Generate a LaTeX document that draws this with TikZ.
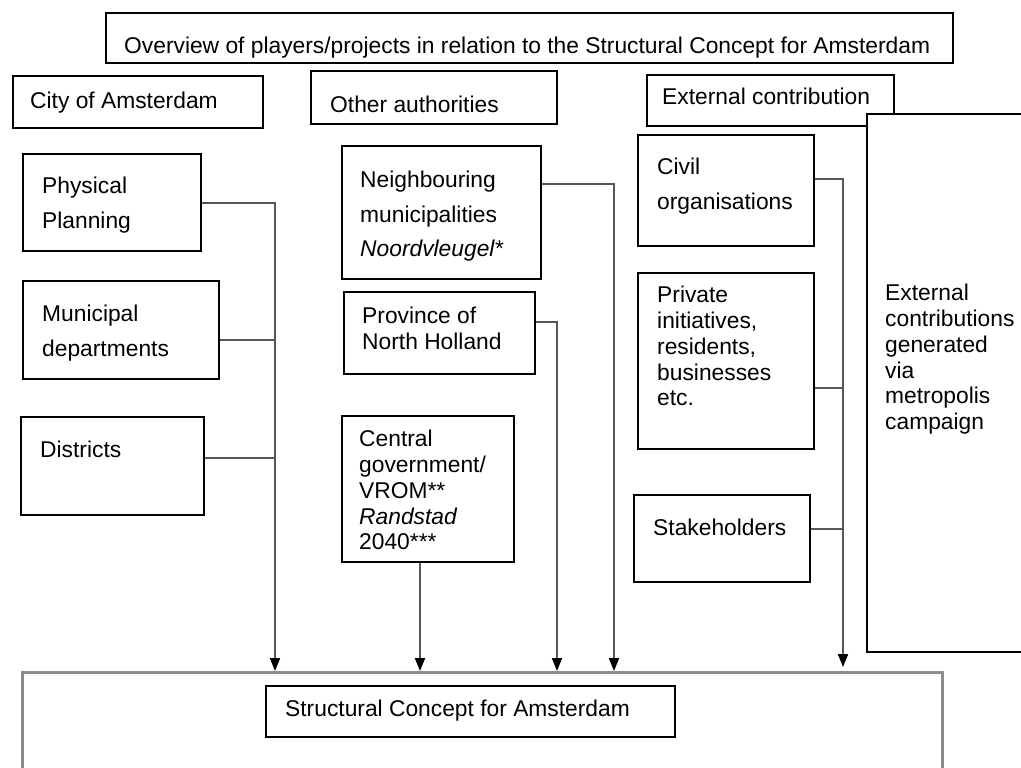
\documentclass[tikz,border=0pt]{standalone}
\usepackage{fontspec}
\setmainfont{Liberation Sans}
\usepackage{tikz}
\usetikzlibrary{arrows.meta}
\newcommand\plain{\fontsize{22.8}{25.8}\selectfont}
\newcommand\airy{\fontsize{22.8}{34.5}\selectfont}
\colorlet{wire}{black!66}
\tikzstyle{box}=[draw,fill=white,line width=2pt,inner sep=0pt,anchor=north west]
\tikzstyle{txt}=[inner sep=0pt,anchor=north west,align=left,font=\plain]
\tikzstyle{txtw}=[txt,font=\airy]
\tikzstyle{link}=[draw=wire,line width=2pt]
\tikzstyle{flow}=[link,-{Triangle[length=13pt,width=10pt,color=black]}]

\begin{document}
\begin{tikzpicture}[x=1pt,y=-1pt]
	\clip (0,0) rectangle (1021,768);
	% header row
	\node[box,minimum width=847pt,minimum height=50pt] (head) at (105,12) {};
	\node[txt] (head-t) at (124,37) {Overview of players/projects in relation to the Structural Concept for Amsterdam};
	\node[box,minimum width=250pt,minimum height=52pt] (city) at (12,75) {};
	\node[txt] (city-t) at (30,92) {City of Amsterdam};
	\node[box,minimum width=246pt,minimum height=53pt] (auth) at (310,70) {};
	\node[txt] (auth-t) at (330,96) {Other authorities};
	\node[box,minimum width=247pt,minimum height=51pt] (extn) at (646,74) {};
	\node[txt] (extn-t) at (662,88) {External contribution};
	\node[box,minimum width=170pt,minimum height=538pt] (camp) at (866,113) {};
	\node[txt] (camp-t) at (885,284) {External\\contributions\\generated\\via\\metropolis\\campaign};
	% city of amsterdam
	\node[box,minimum width=178pt,minimum height=97pt] (phys) at (22,153) {};
	\node[txtw] (phys-t) at (42,177) {Physical\\Planning};
	\node[box,minimum width=196pt,minimum height=98pt] (mun) at (22,280) {};
	\node[txtw] (mun-t) at (42,305) {Municipal\\departments};
	\node[box,minimum width=183pt,minimum height=98pt] (dist) at (20,416) {};
	\node[txt] (dist-t) at (40,441) {Districts};
	% other authorities
	\node[box,minimum width=199pt,minimum height=133pt] (neigh) at (341,145) {};
	\node[txtw] (neigh-t) at (360,171) {Neighbouring\\municipalities\\\textit{Noordvleugel}*};
	\node[box,minimum width=191pt,minimum height=82pt] (prov) at (343,291) {};
	\node[txt] (prov-t) at (362,307) {Province of\\North Holland};
	\node[box,minimum width=172pt,minimum height=146pt] (cent) at (341,415) {};
	\node[txt] (cent-t) at (359,430) {Central\\government/\\VROM**\\\textit{Randstad}\\2040***};
	% external contribution
	\node[box,minimum width=176pt,minimum height=111pt] (civ) at (637,134) {};
	\node[txtw] (civ-t) at (657,158) {Civil\\organisations};
	\node[box,minimum width=176pt,minimum height=176pt] (priv) at (637,272) {};
	\node[txt] (priv-t) at (657,286) {Private\\initiatives,\\residents,\\businesses\\etc.};
	\node[box,minimum width=176pt,minimum height=87pt] (stake) at (633,494) {};
	\node[txt] (stake-t) at (653,519) {Stakeholders};
	% structural concept
	\node[box,draw=black!45,line width=2.5pt,minimum width=920pt,minimum height=110pt] (plan) at (21,671) {};
	\node[box,minimum width=409pt,minimum height=51pt] (core) at (265,685) {};
	\node[txt] (core-t) at (285,700) {Structural Concept for Amsterdam};
	% trunks
	\coordinate (tcity) at (275,0);
	\coordinate (tprov) at (557,0);
	\coordinate (tneigh) at (614,0);
	\coordinate (text) at (843,0);
	\draw[flow] (phys.east) -| (tcity |- plan.north);
	\draw[link] ([yshift=-10pt]mun.east) -- ([yshift=-10pt]mun.east -| tcity);
	\draw[link] ([yshift=8pt]dist.east) -- ([yshift=8pt]dist.east -| tcity);
	\draw[flow] ([xshift=-8pt]cent.south) -- ([xshift=-8pt]cent.south |- plan.north);
	\draw[flow] ([yshift=11pt]prov.east) -| (tprov |- plan.north);
	\draw[flow] ([yshift=29pt]neigh.east) -| (tneigh |- plan.north);
	\draw[flow] ([yshift=12pt]civ.east) -| ([yshift=4pt]text |- plan.north);
	\draw[link] ([yshift=-27pt]priv.east) -- ([yshift=-27pt]priv.east -| text);
	\draw[link] ([yshift=10pt]stake.east) -- ([yshift=10pt]stake.east -| text);
\end{tikzpicture}
\end{document}
